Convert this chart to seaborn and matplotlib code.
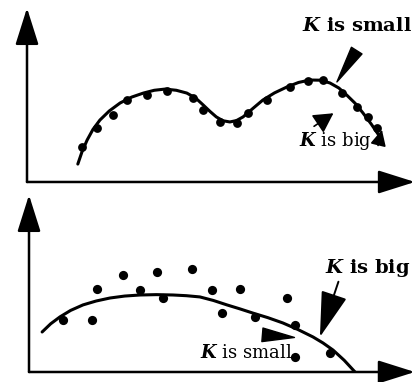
import matplotlib
matplotlib.use("Agg")
import matplotlib.pyplot as plt
import seaborn as sns
import numpy as np

# ---- data (arbitrary units 0..10) ----
top_pts_x = [1.42, 1.80, 2.22, 2.58, 3.09, 3.61, 4.28, 4.54, 4.97, 5.41, 5.70, 6.19, 6.78, 7.24, 7.63, 8.12, 8.51, 8.79, 9.02]
top_pts_y = [2.01, 3.10, 3.85, 4.71, 5.00, 5.23, 4.83, 4.14, 3.45, 3.39, 3.97, 4.71, 5.46, 5.80, 5.86, 5.11, 4.31, 3.74, 3.10]
top_curve_x = [1.31, 1.42, 1.55, 1.70, 1.88, 2.12, 2.40, 2.70, 3.00, 3.28, 3.56, 3.85, 4.12, 4.35, 4.54, 4.72, 4.88, 5.05, 5.23, 5.40, 5.57, 5.82, 6.08, 6.38, 6.70, 7.00, 7.29, 7.56, 7.81, 8.04, 8.24, 8.46, 8.66, 8.88, 9.10]
top_curve_y = [1.03, 1.75, 2.41, 3.02, 3.56, 4.08, 4.54, 4.88, 5.11, 5.27, 5.34, 5.27, 5.11, 4.82, 4.43, 4.05, 3.74, 3.52, 3.45, 3.53, 3.74, 4.22, 4.71, 5.12, 5.46, 5.72, 5.86, 5.85, 5.69, 5.40, 5.00, 4.52, 3.97, 3.31, 2.59]

bot_pts_x = [0.88, 1.63, 1.76, 2.44, 2.88, 3.32, 3.47, 4.22, 4.74, 5.00, 5.47, 5.85, 6.68, 6.89, 6.89, 7.80]
bot_pts_y = [2.94, 2.94, 4.69, 5.48, 4.63, 5.65, 4.18, 5.82, 4.63, 3.33, 4.69, 3.11, 4.18, 2.66, 0.85, 1.07]
bot_curve_x = [0.34, 0.56, 0.80, 1.08, 1.40, 1.74, 2.10, 2.48, 2.88, 3.30, 3.73, 4.08, 4.43, 4.78, 5.13, 5.46, 5.80, 6.19, 6.58, 6.97, 7.36, 7.62, 7.88, 8.17, 8.45]
bot_curve_y = [2.26, 2.72, 3.11, 3.48, 3.79, 4.01, 4.18, 4.29, 4.35, 4.37, 4.35, 4.31, 4.24, 4.04, 3.79, 3.57, 3.33, 3.07, 2.77, 2.40, 1.98, 1.64, 1.24, 0.66, 0.00]

label_small = r"$K$ is small"
label_big = r"$K$ is big"

# ---- style ----
sns.set_style("white")
plt.rcParams["font.family"] = ["DejaVu Serif", "DejaVu Sans"]
plt.rcParams["text.color"] = "black"
plt.rcParams["mathtext.fontset"] = "custom"
plt.rcParams["mathtext.it"] = "DejaVu Serif:italic:bold"
plt.rcParams["mathtext.rm"] = "DejaVu Serif"
plt.rcParams["mathtext.bf"] = "DejaVu Serif:bold"

fig = plt.figure(figsize=(4.18, 3.82), dpi=100)
ax1 = fig.add_axes([0.0646, 0.5236, 0.928, 0.4555])
ax2 = fig.add_axes([0.0694, 0.0262, 0.923, 0.4634])

def setup(ax):
    ax.set_xlim(0, 10)
    ax.set_ylim(0, 10)
    for s in ax.spines.values():
        s.set_visible(False)
    ax.set_xticks([])
    ax.set_yticks([])
    ax.patch.set_alpha(0)
    arrow = dict(arrowstyle="-|>,head_length=1.9,head_width=0.6", color="black",
                 lw=1.8, mutation_scale=12, shrinkA=0, shrinkB=0)
    ax.annotate("", xy=(0, 1), xytext=(0, 0), xycoords="axes fraction",
                textcoords="axes fraction", arrowprops=arrow, annotation_clip=False)
    ax.annotate("", xy=(1, 0), xytext=(0, 0), xycoords="axes fraction",
                textcoords="axes fraction", arrowprops=arrow, annotation_clip=False)

for ax in (ax1, ax2):
    setup(ax)

# top panel
sns.lineplot(x=top_curve_x, y=top_curve_y, ax=ax1, color="black", lw=2.2,
             sort=False, estimator=None)
sns.scatterplot(x=top_pts_x, y=top_pts_y, ax=ax1, color="black", s=40,
                edgecolor="black", linewidth=0)

ax1.text(8.5, 8.95, label_small, fontsize=14, fontweight="bold",
         ha="center", va="center", color="black")
ax1.annotate("", xy=(7.99, 5.75), xytext=(8.5, 7.55),
             arrowprops=dict(arrowstyle="wedge,tail_width=0.9", color="black",
                             lw=1.0, shrinkA=0, shrinkB=0))
ax1.text(7.95, 2.35, label_big, fontsize=13, ha="center", va="center",
         color="black")
ax1.annotate("", xy=(7.9, 3.95), xytext=(7.4, 3.2),
             arrowprops=dict(arrowstyle="-|>,head_length=1.0,head_width=0.55",
                             color="black", lw=1.2, shrinkA=0, shrinkB=0,
                             mutation_scale=12))
ax1.annotate("", xy=(9.15, 3.0), xytext=(9.05, 2.1),
             arrowprops=dict(arrowstyle="-|>,head_length=0.8,head_width=0.4",
                             color="black", lw=1.2, shrinkA=0, shrinkB=0,
                             mutation_scale=12))

# bottom panel
sns.lineplot(x=bot_curve_x, y=bot_curve_y, ax=ax2, color="black", lw=2.2,
             sort=False, estimator=None)
sns.scatterplot(x=bot_pts_x, y=bot_pts_y, ax=ax2, color="black", s=44,
                edgecolor="black", linewidth=0)

ax2.text(8.78, 5.9, label_big, fontsize=14, fontweight="bold",
         ha="center", va="center", color="black")
ax2.annotate("", xy=(7.54, 1.98), xytext=(8.02, 5.1),
             arrowprops=dict(arrowstyle="-|>,head_length=2.4,head_width=0.7",
                             color="black", lw=1.4, shrinkA=0, shrinkB=0,
                             mutation_scale=12))
ax2.text(5.62, 1.05, label_small, fontsize=13, ha="center", va="center",
         color="black")
ax2.annotate("", xy=(6.88, 1.95), xytext=(6.05, 2.1),
             arrowprops=dict(arrowstyle="wedge,tail_width=0.7", color="black",
                             lw=1.0, shrinkA=0, shrinkB=0, mutation_scale=14))

fig.savefig("out.png", dpi=100)
